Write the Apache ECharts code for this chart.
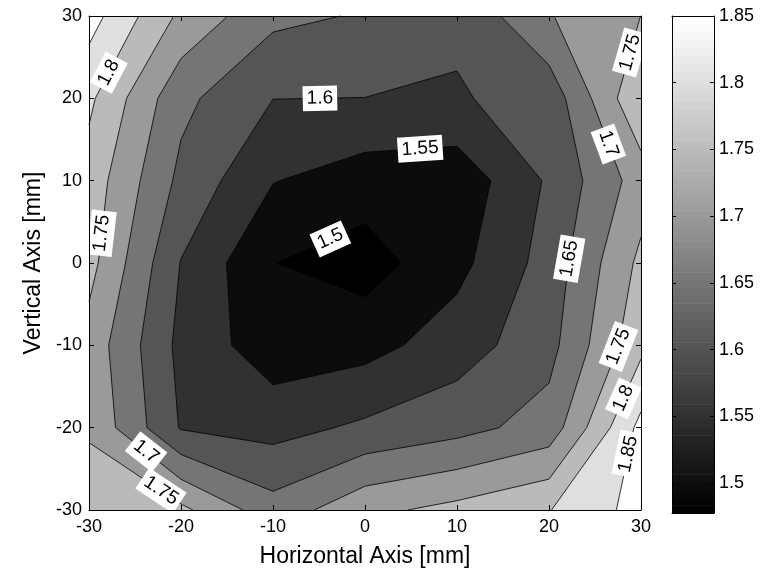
<!DOCTYPE html>
<html>
<head>
<meta charset="utf-8">
<script src="https://cdn.jsdelivr.net/npm/echarts@6/dist/echarts.min.js"></script>
<style>
  html, body { margin: 0; padding: 0; background: #fff; }
  #chart { width: 771px; height: 573px; }
</style>
</head>
<body>
<div id="chart"></div>
<script>
// Measurement grid (mm)
const xs = [-30, -20, -10, 0, 10, 20, 30];
const ys = [-30, -20, -10, 0, 10, 20, 30];

// Measured values, one row per vertical position (x = -30 ... 30)
const rowYm30 = [1.786, 1.762, 1.670, 1.737, 1.765, 1.798, 1.869];
const rowYm20 = [1.742, 1.596, 1.582, 1.609, 1.633, 1.670, 1.865];
const rowYm10 = [1.731, 1.586, 1.5205, 1.532, 1.575, 1.633, 1.787];
const rowY0   = [1.767, 1.598, 1.501, 1.4776, 1.535, 1.620, 1.762];
const rowY10  = [1.779, 1.637, 1.552, 1.524, 1.517, 1.607, 1.724];
const rowY20  = [1.810, 1.663, 1.6005, 1.5995, 1.596, 1.618, 1.796];
const rowY30  = [1.871, 1.7395, 1.662, 1.6456, 1.608, 1.697, 1.7503];

// Contour levels and colorbar ticks
const levels = [1.5, 1.55, 1.6, 1.65, 1.7, 1.75, 1.8, 1.85];
const colorbarTicks = [1.5, 1.55, 1.6, 1.65, 1.7, 1.75, 1.8, 1.85];

// Inline contour labels: level and approximate place along its line (mm)
const labelLevel = [1.8, 1.6, 1.55, 1.5, 1.75, 1.65, 1.7, 1.75, 1.75, 1.8, 1.85, 1.7, 1.75];
const labelX     = [-27.5, -4.9, 6.0, -3.8, -28.5, 22.3, 26.3, 28.4, 27.0, 27.2, 28.6, -23.7, -21.9];
const labelY     = [22.9, 20.2, 13.8, 3.0, 3.6, 0.5, 14.4, 25.7, -9.9, -16.0, -23.2, -22.8, -27.2];

const z = [rowYm30, rowYm20, rowYm10, rowY0, rowY10, rowY20, rowY30];
const zMin = Math.min.apply(null, z.flat());
const cMin = zMin;
const cMax = levels[levels.length - 1];
const NCOL = 64;

function grayIndex(v) {
  let k = Math.floor((v - cMin) / (cMax - cMin) * NCOL);
  return Math.max(0, Math.min(NCOL - 1, k));
}
function grayCss(k) {
  const g = Math.round(k / (NCOL - 1) * 255);
  return 'rgb(' + g + ',' + g + ',' + g + ')';
}
function fmt(v) { return String(parseFloat(v.toFixed(2))); }

function cellCorners(i, j) {
  return [
    [xs[i], ys[j], z[j][i]],
    [xs[i + 1], ys[j], z[j][i + 1]],
    [xs[i + 1], ys[j + 1], z[j + 1][i + 1]],
    [xs[i], ys[j + 1], z[j + 1][i]]
  ];
}

// Region z >= L, cell by cell, with linear interpolation on cell edges
function fillPolys(L) {
  const out = [];
  for (let j = 0; j < ys.length - 1; j++) {
    for (let i = 0; i < xs.length - 1; i++) {
      const c = cellCorners(i, j);
      const pts = [];
      for (let k = 0; k < 4; k++) {
        const a = c[k], b = c[(k + 1) % 4];
        const ia = a[2] >= L, ib = b[2] >= L;
        if (ia) pts.push([a[0], a[1]]);
        if (ia !== ib) {
          const t = (L - a[2]) / (b[2] - a[2]);
          pts.push([a[0] + t * (b[0] - a[0]), a[1] + t * (b[1] - a[1])]);
        }
      }
      if (pts.length >= 3) out.push(pts);
    }
  }
  return out;
}

// Iso-line segments (marching squares)
function isoSegments(L) {
  const segs = [];
  for (let j = 0; j < ys.length - 1; j++) {
    for (let i = 0; i < xs.length - 1; i++) {
      const c = cellCorners(i, j);
      const cross = [];
      for (let k = 0; k < 4; k++) {
        const a = c[k], b = c[(k + 1) % 4];
        if ((a[2] >= L) !== (b[2] >= L)) {
          const t = (L - a[2]) / (b[2] - a[2]);
          cross.push([a[0] + t * (b[0] - a[0]), a[1] + t * (b[1] - a[1])]);
        }
      }
      if (cross.length === 2) {
        segs.push([cross[0], cross[1]]);
      } else if (cross.length === 4) {
        const centre = (c[0][2] + c[1][2] + c[2][2] + c[3][2]) / 4;
        if ((centre >= L) === (c[0][2] >= L)) {
          segs.push([cross[0], cross[1]]);
          segs.push([cross[2], cross[3]]);
        } else {
          segs.push([cross[3], cross[0]]);
          segs.push([cross[1], cross[2]]);
        }
      }
    }
  }
  return segs;
}

const fillLevels = [zMin].concat(levels);
const P = v => v.toFixed(2);

const chart = echarts.init(document.getElementById('chart'), null, { renderer: 'canvas' });

const FONT = 'Liberation Sans, Arial, Helvetica, sans-serif';
const black = '#000';

function frameAxis() {
  return {
    axisLine: { show: true, onZero: false, lineStyle: { color: black, width: 1 } },
    axisTick: { show: true, inside: true, length: 5, lineStyle: { color: black, width: 1 } },
    splitLine: { show: false },
    z: 10
  };
}

const option = {
  animation: false,
  backgroundColor: '#fff',
  textStyle: { fontFamily: FONT },
  grid: [
    { left: 89, top: 16, width: 552, height: 497, show: false },
    { left: 672, top: 16, width: 42, height: 497, show: false }
  ],
  xAxis: [
    Object.assign(frameAxis(), {
      type: 'value', gridIndex: 0, position: 'bottom', min: -30, max: 30, interval: 10,
      axisLabel: { show: true, color: black, fontSize: 18, fontFamily: FONT, margin: 8,
                   showMinLabel: true, showMaxLabel: true },
      name: 'Horizontal Axis [mm]', nameLocation: 'middle', nameGap: 35,
      nameTextStyle: { color: black, fontSize: 23, fontFamily: FONT }
    }),
    Object.assign(frameAxis(), {
      type: 'value', gridIndex: 0, position: 'top', min: -30, max: 30, interval: 10,
      axisLabel: { show: false }
    }),
    {
      type: 'value', gridIndex: 1, position: 'bottom', min: 0, max: 1,
      axisLine: { show: true, onZero: false, lineStyle: { color: black, width: 1 } },
      axisTick: { show: false }, axisLabel: { show: false }, splitLine: { show: false }, z: 10
    },
    {
      type: 'value', gridIndex: 1, position: 'top', min: 0, max: 1,
      axisLine: { show: true, onZero: false, lineStyle: { color: black, width: 1 } },
      axisTick: { show: false }, axisLabel: { show: false }, splitLine: { show: false }, z: 10
    }
  ],
  yAxis: [
    Object.assign(frameAxis(), {
      type: 'value', gridIndex: 0, position: 'left', min: -30, max: 30, interval: 10,
      axisLabel: { show: true, color: black, fontSize: 18, fontFamily: FONT, margin: 7,
                   showMinLabel: true, showMaxLabel: true },
      name: 'Vertical Axis [mm]', nameLocation: 'middle', nameGap: 39, nameRotate: 90,
      nameTextStyle: { color: black, fontSize: 23, fontFamily: FONT }
    }),
    Object.assign(frameAxis(), {
      type: 'value', gridIndex: 0, position: 'right', min: -30, max: 30, interval: 10,
      axisLabel: { show: false }
    }),
    {
      type: 'value', gridIndex: 1, position: 'right', min: cMin, max: cMax,
      axisLine: { show: true, onZero: false, lineStyle: { color: black, width: 1 } },
      axisTick: { show: true, inside: true, length: 4, customValues: colorbarTicks,
                  lineStyle: { color: black, width: 1 } },
      axisLabel: { show: true, color: black, fontSize: 18, fontFamily: FONT, margin: 5,
                   customValues: colorbarTicks, formatter: v => fmt(v) },
      splitLine: { show: false }, z: 10
    },
    {
      type: 'value', gridIndex: 1, position: 'left', min: cMin, max: cMax,
      axisLine: { show: true, onZero: false, lineStyle: { color: black, width: 1 } },
      axisTick: { show: true, inside: true, length: 4, customValues: colorbarTicks,
                  lineStyle: { color: black, width: 1 } },
      axisLabel: { show: false },
      splitLine: { show: false }, z: 10
    }
  ],
  series: [
    {
      // filled bands, painted from the lowest level upwards
      type: 'custom', name: 'bands', coordinateSystem: 'cartesian2d',
      xAxisIndex: 0, yAxisIndex: 0, z: 1, silent: true,
      data: fillLevels.map((L, i) => [i]),
      renderItem: function (params, api) {
        const L = fillLevels[params.dataIndex];
        const polys = fillPolys(L);
        let d = '';
        polys.forEach(poly => {
          poly.forEach((p, k) => {
            const q = api.coord(p);
            d += (k ? 'L' : 'M') + P(q[0]) + ' ' + P(q[1]) + ' ';
          });
          d += 'Z ';
        });
        const col = grayCss(grayIndex(L));
        return { type: 'path', shape: { pathData: d },
                 style: { fill: col, stroke: null, lineWidth: 0 } };
      }
    },
    {
      // contour lines
      type: 'custom', name: 'lines', coordinateSystem: 'cartesian2d',
      xAxisIndex: 0, yAxisIndex: 0, z: 2, silent: true,
      data: levels.map((L, i) => [i]),
      renderItem: function (params, api) {
        const L = levels[params.dataIndex];
        let d = '';
        isoSegments(L).forEach(s => {
          const a = api.coord(s[0]), b = api.coord(s[1]);
          d += 'M' + P(a[0]) + ' ' + P(a[1]) + ' L' + P(b[0]) + ' ' + P(b[1]) + ' ';
        });
        return { type: 'path', shape: { pathData: d },
                 style: { fill: 'none', stroke: black, lineWidth: 0.8 } };
      }
    },
    {
      // inline level labels, snapped onto their contour and turned along it
      type: 'custom', name: 'labels', coordinateSystem: 'cartesian2d',
      xAxisIndex: 0, yAxisIndex: 0, z: 3, silent: true,
      data: labelLevel.map((L, i) => [i]),
      renderItem: function (params, api) {
        const k = params.dataIndex;
        const L = labelLevel[k];
        const a = api.coord([labelX[k], labelY[k]]);
        let best = null, bestD = Infinity;
        isoSegments(L).forEach(s => {
          const p0 = api.coord(s[0]), p1 = api.coord(s[1]);
          const dx = p1[0] - p0[0], dy = p1[1] - p0[1];
          const len2 = dx * dx + dy * dy;
          let t = len2 > 0 ? ((a[0] - p0[0]) * dx + (a[1] - p0[1]) * dy) / len2 : 0;
          t = Math.max(0, Math.min(1, t));
          const px = p0[0] + t * dx, py = p0[1] + t * dy;
          const dd = (px - a[0]) * (px - a[0]) + (py - a[1]) * (py - a[1]);
          if (dd < bestD) { bestD = dd; best = { x: px, y: py, dx: dx, dy: dy }; }
        });
        if (!best) return null;
        let ang = Math.atan2(-best.dy, best.dx);
        if (ang > Math.PI / 2) ang -= Math.PI;
        if (ang <= -Math.PI / 2) ang += Math.PI;
        return {
          type: 'text', x: best.x, y: best.y, rotation: ang,
          style: { text: fmt(L), fill: black, font: '19px ' + FONT,
                   align: 'center', verticalAlign: 'middle',
                   backgroundColor: '#fff', padding: [4, 4, 2, 4] }
        };
      }
    },
    {
      // colorbar: 64 gray steps between the colour limits
      type: 'custom', name: 'colorbar', coordinateSystem: 'cartesian2d',
      xAxisIndex: 2, yAxisIndex: 2, z: 1, silent: true,
      data: Array.from({ length: NCOL }, (_, k) => [k]),
      renderItem: function (params, api) {
        const k = params.dataIndex;
        const v0 = cMin + k * (cMax - cMin) / NCOL;
        const v1 = cMin + (k + 1) * (cMax - cMin) / NCOL;
        const p0 = api.coord([0, v0]), p1 = api.coord([1, v1]);
        const col = grayCss(k);
        return { type: 'rect',
                 shape: { x: p0[0], y: p1[1], width: p1[0] - p0[0], height: p0[1] - p1[1] + 0.5 },
                 style: { fill: col } };
      }
    }
  ]
};

chart.setOption(option);
</script>
</body>
</html>
